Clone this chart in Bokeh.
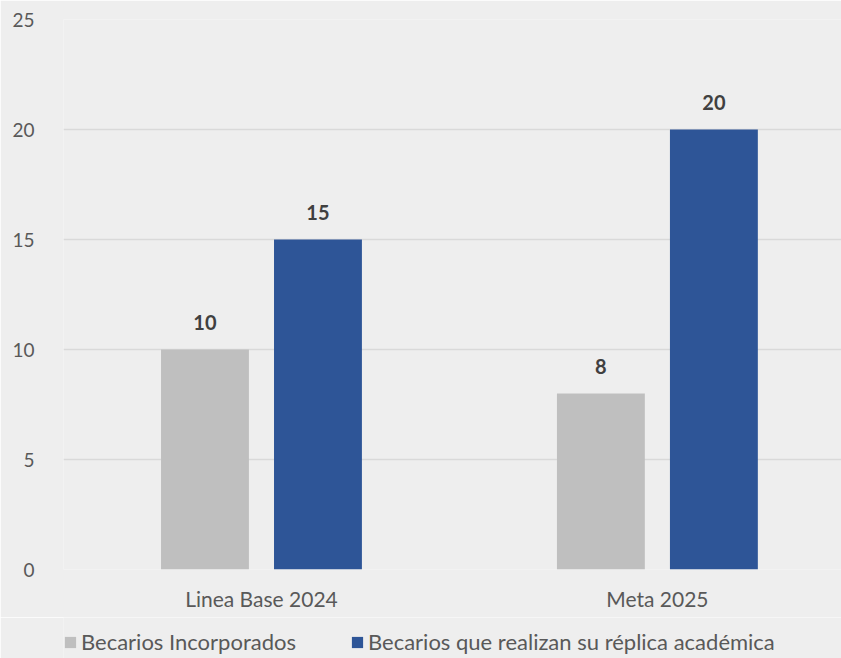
import numpy as np
from bokeh.plotting import figure
from bokeh.layouts import column
from bokeh.models import (ColumnDataSource, Range1d, FixedTicker, LabelSet,
                          Legend, LegendItem)
from bokeh.core.properties import value
from bokeh.embed import file_html
from bokeh.resources import INLINE

# ---- data ----
categories = ["Linea Base 2024", "Meta 2025"]
series_names = ["Becarios Incorporados", "Becarios que realizan su réplica académica"]
incorporados = [10, 8]
replica = [15, 20]
y_ticks = [0, 5, 10, 15, 20, 25]

FONT = "Lato"
BG = "#eeeeee"
GREY = "#bfbfbf"
BLUE = "#2e5597"
TXT = "#595959"

centers = np.arange(len(categories)) + 0.5
off = 0.1427
bw = 0.222

src1 = ColumnDataSource(dict(x=centers - off, top=incorporados,
                             lab=[str(v) for v in incorporados]))
src2 = ColumnDataSource(dict(x=centers + off, top=replica,
                             lab=[str(v) for v in replica]))

p = figure(width=841, height=617, output_backend="svg", toolbar_location=None,
           x_range=Range1d(0, 1.965), y_range=Range1d(0, 25),
           min_border_left=63, min_border_right=0, min_border_top=19,
           min_border_bottom=48)
p.background_fill_color = BG
p.border_fill_color = BG
p.outline_line_color = None

p.vbar(x="x", top="top", width=bw, source=src1, color=GREY, line_color=None)
p.vbar(x="x", top="top", width=bw, source=src2, color=BLUE, line_color=None)

for src in (src1, src2):
    p.add_layout(LabelSet(x="x", y="top", text="lab", source=src, y_offset=27,
                          text_align="center", text_baseline="middle",
                          text_font=value(FONT), text_font_style="bold",
                          text_font_size="20px", text_color="#404040"))

# axes
p.xaxis.ticker = FixedTicker(ticks=list(centers))
p.xaxis.major_label_overrides = {float(c): cat for c, cat in zip(centers, categories)}
p.xaxis.axis_line_color = None
p.xaxis.major_tick_line_color = None
p.xaxis.minor_tick_line_color = None
p.xaxis.major_label_text_font = FONT
p.xaxis.major_label_text_font_size = "21px"
p.xaxis.major_label_text_color = TXT
p.xaxis.major_label_standoff = 10

p.yaxis.ticker = FixedTicker(ticks=y_ticks)
p.yaxis.axis_line_color = None
p.yaxis.major_tick_line_color = None
p.yaxis.minor_tick_line_color = None
p.yaxis.major_label_text_font = FONT
p.yaxis.major_label_text_font_size = "19px"
p.yaxis.major_label_text_color = TXT
p.yaxis.major_label_standoff = 23

p.xgrid.grid_line_color = None
p.ygrid.grid_line_color = "#d9d9d9"
p.ygrid.grid_line_width = 1.5

# ---- legend strip (series bars kept far out of view; only legend glyphs show) ----
lg = figure(width=841, height=41, output_backend="svg", toolbar_location=None,
            x_range=Range1d(0, 1.965), y_range=Range1d(1000, 1001),
            x_axis_location=None, y_axis_location=None,
            min_border=0)
lg.background_fill_color = BG
lg.border_fill_color = BG
lg.outline_line_color = None
lg.grid.visible = False
lr1 = lg.vbar(x="x", top="top", width=bw, source=src1, color=GREY, line_color=None)
lr2 = lg.vbar(x="x", top="top", width=bw, source=src2, color=BLUE, line_color=None)
legend = Legend(items=[LegendItem(label=series_names[0], renderers=[lr1]),
                       LegendItem(label=series_names[1], renderers=[lr2])],
                orientation="horizontal", location=(0, 3),
                background_fill_alpha=0, border_line_color=None,
                padding=0, margin=0, spacing=54,
                glyph_width=14, glyph_height=14, label_height=14,
                label_standoff=4,
                label_text_font=FONT, label_text_font_size="22px",
                label_text_color=TXT)
lg.add_layout(legend, "center")

layout = column(p, lg, spacing=0)
open("out.html", "w").write(file_html(layout, INLINE))
